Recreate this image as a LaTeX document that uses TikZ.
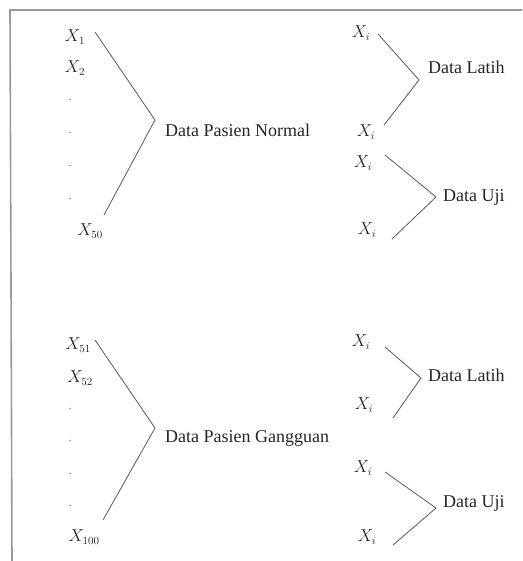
\documentclass[tikz,border=0pt]{standalone}
\usepackage{fontspec}
\setmainfont{Liberation Serif}
\begin{document}
\begin{tikzpicture}[x=1pt,y=-1pt,
  lbl/.style={inner sep=0pt, font=\fontsize{18}{20}\selectfont, text=black!85},
  var/.style={inner sep=0pt, font=\fontsize{16}{18}\selectfont, text=black!85},
  dotm/.style={inner sep=0pt, font=\fontsize{12}{14}\selectfont, text=black!60},
  br/.style={draw=black!65, line width=0.8pt},
  frame/.style={draw=black!40, line width=1.6pt}]
\useasboundingbox (0,0) rectangle (522,561);
\coordinate (fa) at (10,10);
\coordinate (fb) at (522,10);
\coordinate (fc) at (12,561);
\draw[frame] (fb) -- (fa) -- (fc);

% top group
\node[var] (x1) at (75,37) {$X_1$};
\node[var] (x2) at (75,68) {$X_2$};
\node[dotm] (d1) at (70,100) {.};
\node[dotm] (d2) at (70,133) {.};
\node[dotm] (d3) at (70,166) {.};
\node[dotm] (d4) at (70,199) {.};
\node[var] (x50) at (90,231) {$X_{50}$};
\coordinate (a1) at (95,32);
\coordinate (a2) at (155,120);
\coordinate (a3) at (104,215);
\draw[br] (a1) -- (a2) -- (a3);
\node[lbl, anchor=west] (dpn) at (165,130) {Data Pasien Normal};

\node[var] (r1) at (361,33) {$X_i$};
\node[var] (r2) at (366,132) {$X_i$};
\coordinate (b1) at (378,34);
\coordinate (b2) at (419,80);
\coordinate (b3) at (384,125);
\draw[br] (b1) -- (b2) -- (b3);
\node[lbl, anchor=west] (dl1) at (428,67) {Data Latih};

\node[var] (r3) at (363,163) {$X_i$};
\node[var] (r4) at (367,230) {$X_i$};
\coordinate (c1) at (385,155);
\coordinate (c2) at (436,197);
\coordinate (c3) at (392,239);
\draw[br] (c1) -- (c2) -- (c3);
\node[lbl, anchor=west] (du1) at (443,197) {Data Uji};

% bottom group
\node[var] (x51) at (78,345) {$X_{51}$};
\node[var] (x52) at (80,378) {$X_{52}$};
\node[dotm] (e1) at (70,409) {.};
\node[dotm] (e2) at (70,441) {.};
\node[dotm] (e3) at (70,474) {.};
\node[dotm] (e4) at (70,506) {.};
\node[var] (x100) at (84,537) {$X_{100}$};
\coordinate (g1) at (95,340);
\coordinate (g2) at (155,428);
\coordinate (g3) at (103,520);
\draw[br] (g1) -- (g2) -- (g3);
\node[lbl, anchor=west] (dpg) at (165,438) {Data Pasien Gangguan};

\node[var] (s1) at (361,342) {$X_i$};
\node[var] (s2) at (364,405) {$X_i$};
\coordinate (h1) at (385,347);
\coordinate (h2) at (421,378);
\coordinate (h3) at (393,418);
\draw[br] (h1) -- (h2) -- (h3);
\node[lbl, anchor=west] (dl2) at (428,375) {Data Latih};

\node[var] (s3) at (363,468) {$X_i$};
\node[var] (s4) at (367,537) {$X_i$};
\coordinate (k1) at (385,472);
\coordinate (k2) at (436,508);
\coordinate (k3) at (393,545);
\draw[br] (k1) -- (k2) -- (k3);
\node[lbl, anchor=west] (du2) at (443,503) {Data Uji};
\end{tikzpicture}
\end{document}
